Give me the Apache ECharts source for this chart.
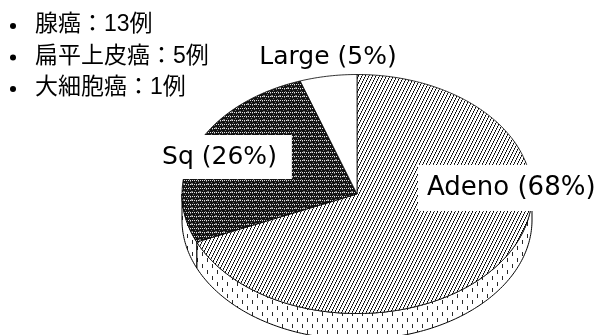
<!DOCTYPE html>
<html>
<head>
<meta charset="utf-8">
<script src="https://cdn.jsdelivr.net/npm/echarts@6/dist/echarts.min.js"></script>
<style>
  html, body { margin: 0; padding: 0; background: #fff; }
  #main { width: 600px; height: 335px; }
</style>
</head>
<body>
<div id="main"></div>
<script>
// data
var sliceNames = ['Adeno', 'Sq', 'Large'];
var caseCounts = [13, 5, 1];
var legendNames = ['腺癌', '扁平上皮癌', '大細胞癌'];

// pie geometry (flattened 3d disc)
var cx = 357, cy = 194, rx = 175, ry = 119.5, depth = 26;
// where each label box sits
var labelAt = {
  Adeno: [418, 188, 'left'],
  Sq: [223, 157, 'center'],
  Large: [328, 57, 'center']
};
var jpFont = '"Liberation Sans", "Noto Sans CJK JP", sans-serif';

function makeTile(w, h, pick) {
  var c = document.createElement('canvas');
  c.width = w; c.height = h;
  var ctx = c.getContext('2d');
  var img = ctx.createImageData(w, h);
  for (var y = 0; y < h; y++) {
    for (var x = 0; x < w; x++) {
      var v = pick(x, y);
      var k = (y * w + x) * 4;
      img.data[k] = img.data[k + 1] = img.data[k + 2] = v;
      img.data[k + 3] = 255;
    }
  }
  ctx.putImageData(img, 0, 0);
  return c;
}

// "/" hatching
var hatch = makeTile(7, 7, function (x, y) {
  var m = (2 * x + y) % 7;
  return m < 1 ? 0 : (m === 1 ? 70 : 255);
});
// dark dither
var dither = makeTile(8, 8, function (x, y) {
  if (x % 2 === 0 && y % 4 === 0) return 230;
  if ((x + 3 * y) % 7 === 0) return 120;
  return 20;
});
// side: short vertical dashes
var dashes = makeTile(10, 12, function (x, y) {
  if (x === 2 && y < 4) return 40;
  if (x === 7 && y >= 6 && y < 10) return 40;
  return 255;
});
var fills = {
  Adeno: { image: hatch, repeat: 'repeat' },
  Sq: { image: dither, repeat: 'repeat' },
  Large: '#fff'
};

var total = caseCounts.reduce(function (a, b) { return a + b; }, 0);

function arc(a, b, dy) {
  var pts = [];
  var n = Math.max(2, Math.ceil(Math.abs(b - a)));
  for (var i = 0; i <= n; i++) {
    var t = (a + (b - a) * i / n) * Math.PI / 180;
    pts.push([cx + rx * Math.cos(t), cy + ry * Math.sin(t) + dy]);
  }
  return pts;
}

function renderItem(params, api) {
  var i = params.dataIndex;
  var before = 0;
  for (var j = 0; j < i; j++) before += caseCounts[j];
  var t0 = -90 + before / total * 360;
  var t1 = t0 + api.value(0) / total * 360;
  var name = sliceNames[i];
  var children = [];

  // visible side wall (front half only)
  var a = Math.max(t0, 0), b = Math.min(t1, 180);
  if (b > a) {
    children.push({
      type: 'polygon',
      z2: 1,
      shape: { points: arc(a, b, 0).concat(arc(b, a, depth)) },
      style: { fill: { image: dashes, repeat: 'repeat' }, stroke: '#000', lineWidth: 1 }
    });
  }
  children.push({
    type: 'polygon',
    z2: 2,
    shape: { points: [[cx, cy]].concat(arc(t0, t1, 0)) },
    style: { fill: fills[name], stroke: '#000', lineWidth: 0.8 }
  });

  var pct = Math.round(api.value(0) / total * 100);
  var pos = labelAt[name];
  var boxed = name !== 'Large';
  children.push({
    type: 'text',
    z2: 10,
    x: pos[0],
    y: pos[1],
    style: {
      text: name + ' (' + pct + '%)',
      font: (name === 'Adeno' ? 26 : 25) + 'px "DejaVu Sans", sans-serif',
      fill: '#000',
      align: pos[2],
      verticalAlign: 'middle',
      backgroundColor: boxed ? '#fff' : null,
      padding: boxed ? (name === 'Adeno' ? [9, 14, 11, 9] : [9, 15, 10, 8]) : 0
    }
  });
  return { type: 'group', children: children };
}

// bullet list, top left
var legendItems = legendNames.map(function (n, k) {
  var y = 25 + k * 31.5;
  return {
    type: 'group',
    children: [
      { type: 'circle', shape: { cx: 13, cy: y + 1, r: 3 }, style: { fill: '#000' } },
      { type: 'text', x: 35, y: y, style: { text: n + '：' + caseCounts[k] + '例', font: '23px ' + jpFont, fill: '#000', verticalAlign: 'middle' } }
    ]
  };
});

var chart = echarts.init(document.getElementById('main'), null, { renderer: 'canvas' });
chart.setOption({
  backgroundColor: '#fff',
  animation: false,
  graphic: legendItems,
  series: [{
    type: 'custom',
    coordinateSystem: 'none',
    renderItem: renderItem,
    data: caseCounts.map(function (v, k) { return { name: sliceNames[k], value: [v] }; })
  }]
});
</script>
</body>
</html>
